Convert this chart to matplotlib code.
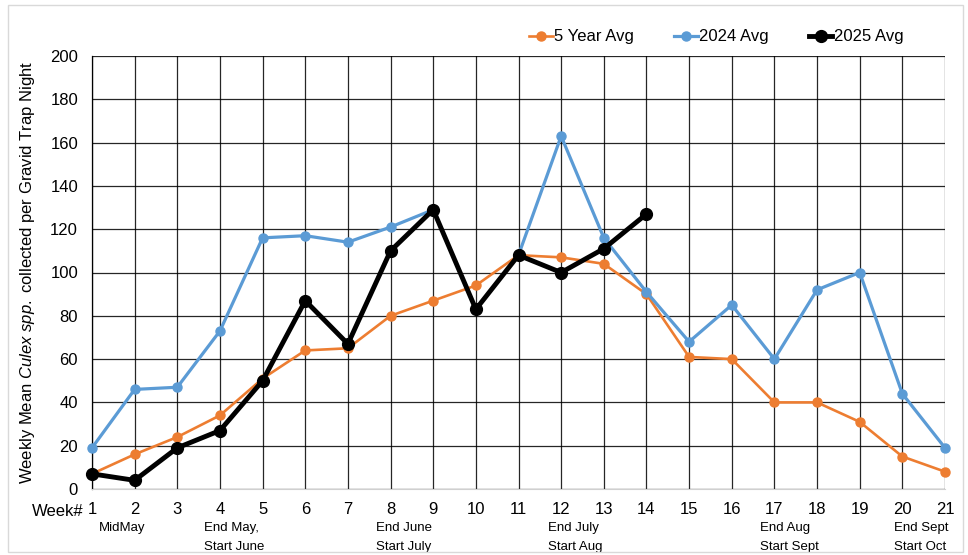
import numpy as np
import matplotlib.pyplot as plt
from matplotlib.patches import Rectangle

plt.rcParams['font.family'] = ['Liberation Sans', 'DejaVu Sans']
plt.rcParams['mathtext.fontset'] = 'custom'
plt.rcParams['mathtext.rm'] = 'Liberation Sans'
plt.rcParams['mathtext.it'] = 'Liberation Sans:italic'

weeks = np.arange(1, 22)
avg_5yr = [7, 16, 24, 34, 51, 64, 65, 80, 87, 94, 108, 107, 104, 90, 61, 60, 40, 40, 31, 15, 8]
avg_2024 = [19, 46, 47, 73, 116, 117, 114, 121, 129, np.nan, 108, 163, 116, 91, 68, 85, 60, 92, 100, 44, 19]
weeks_2025 = np.arange(1, 15)
avg_2025 = [7, 4, 19, 27, 50, 87, 67, 110, 129, 83, 108, 100, 111, 127]

# left edge (in week units) of the period notes under the axis
period_pos = [1.16, 3.63, 7.66, 11.69, 16.66, 19.8]
period_labels = ["MidMay", "End May,\nStart June", "End June\nStart July",
                 "End July\nStart Aug", "End Aug\nStart Sept", "End Sept\nStart Oct"]

fig = plt.figure(figsize=(9.68, 5.55), dpi=100)
ax = fig.add_axes([92/968, 1-489/555, (945-92)/968, (489-56)/555])

fig.patches.append(Rectangle((8/968, 3/555), 955/968, 547/555, transform=fig.transFigure,
                             fill=False, edgecolor='#d9d9d9', linewidth=1))

ax.plot(weeks, avg_5yr, color='#ED7D31', lw=1.9, marker='o', ms=6.5, label='5 Year Avg', clip_on=False, zorder=3)
ax.plot(weeks, avg_2024, color='#5B9BD5', lw=2.3, marker='o', ms=6.5, label='2024 Avg', clip_on=False, zorder=4)
ax.plot(weeks_2025, avg_2025, color='black', lw=3.5, marker='o', ms=8.5, label='2025 Avg', clip_on=False, zorder=5)

ax.set_xlim(1, 21)
ax.set_ylim(0, 200)
ax.set_xticks(weeks)
ax.set_yticks(np.arange(0, 201, 20))
ax.grid(True, color='black', linewidth=0.9, alpha=0.85)
ax.set_axisbelow(True)
ax.tick_params(axis='both', length=0, labelsize=12)
ax.tick_params(axis='x', pad=9)
ax.tick_params(axis='y', pad=10)
for s in ['top', 'right']:
    ax.spines[s].set_visible(False)
ax.spines['bottom'].set_color('#d0d0d0')
ax.spines['left'].set_color('black')
ax.spines['left'].set_linewidth(0.9)

ax.set_ylabel(r"Weekly Mean $\mathit{Culex\ spp.}$ collected per Gravid Trap Night", fontsize=12)
ax.yaxis.set_label_coords(-0.065, 0.5)

fig.text(84/968, 1-511/555, "Week#", fontsize=12, va='center', ha='right')
for p, lab in zip(period_pos, period_labels):
    ax.text(p, -0.076, lab, transform=ax.get_xaxis_transform(), ha='left', va='top',
            fontsize=9.5, linespacing=1.75)

ax.legend(loc='lower right', bbox_to_anchor=(0.965, 1.0), ncol=3, frameon=False, fontsize=12,
          handlelength=1.4, handletextpad=0.1, columnspacing=2.4, borderaxespad=0.3)

fig.savefig('out.png', dpi=100)
